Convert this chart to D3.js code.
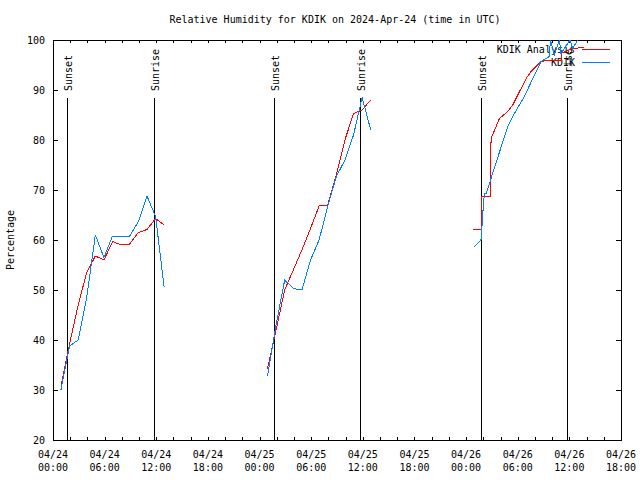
<!DOCTYPE html>
<html>
<head>
<meta charset="utf-8">
<script src="https://cdn.jsdelivr.net/npm/d3@7"></script>
<style>
  html, body { margin: 0; padding: 0; background: #fff; }
  svg { display: block; }
  text { font-family: 'DejaVu Sans Mono', monospace; font-size: 10px; fill: #000; }
</style>
</head>
<body>
<svg id="chart" width="640" height="480"></svg>
<script>
// ---- data (time in hours since 2024-04-24 00:00 UTC) ----
const titleText = "Relative Humidity for KDIK on 2024-Apr-24 (time in UTC)";
const yLabel = "Percentage";
const seriesNames = ["KDIK Analysis", "KDIK"];

const xTickHours = [0, 6, 12, 18, 24, 30, 36, 42, 48, 54, 60, 66];
const xTickDates = ["04/24","04/24","04/24","04/24","04/25","04/25","04/25","04/25","04/26","04/26","04/26","04/26"];
const xTickTimes = ["00:00","06:00","12:00","18:00","00:00","06:00","12:00","18:00","00:00","06:00","12:00","18:00"];
const yTicks = [20, 30, 40, 50, 60, 70, 80, 90, 100];

const sunsetHours = [1.62, 25.72, 49.78];
const sunriseHours = [11.72, 35.7, 59.68];

// day 1
const t1 = [0.92, 1.92, 2.92, 3.92, 4.92, 5.92, 6.92, 7.92, 8.92, 9.92, 10.92, 11.92, 12.92];
const ana1 = [30.7, 39.2, 47.0, 53.5, 56.8, 56.0, 59.7, 59.0, 59.2, 61.5, 62.1, 64.3, 63.0];
const obs1 = [30.0, 38.8, 40.0, 48.5, 61.0, 56.5, 60.8, 60.8, 60.8, 63.7, 68.8, 64.7, 50.5];
// day 2
const t2 = [24.92, 25.92, 26.92, 27.92, 28.92, 29.92, 30.92, 31.92, 32.92, 33.92, 34.92, 35.92, 36.92];
const ana2 = [34.3, 42.0, 50.0, 54.0, 58.0, 62.3, 66.8, 67.0, 73.0, 80.0, 85.3, 86.0, 88.0];
const obs2 = [32.7, 43.0, 52.0, 50.3, 50.0, 56.0, 60.0, 66.7, 72.7, 76.0, 81.0, 88.5, 82.0];
// day 3
const ta3 = [48.86, 49.75, 49.75, 50.80, 50.80, 50.91, 51.87, 52.84, 53.42, 54.39, 54.97, 55.55, 56.71, 57.87, 59.03, 59.03, 60.35, 61.74];
const ana3 = [62.1, 62.1, 68.7, 68.7, 74.3, 80.3, 84.3, 85.7, 87.0, 90.3, 92.3, 93.7, 95.7, 96.0, 96.0, 97.3, 98.3, 98.5];
const to3 = [48.89, 49.75, 49.82, 50.02, 50.13, 50.33, 50.71, 51.21, 52.84, 53.61, 54.77, 55.94, 56.71, 57.68, 57.79, 58.26, 58.84, 59.03, 60.07, 60.38, 60.96];
const obs3 = [58.5, 60.1, 62.0, 67.3, 69.2, 69.3, 71.3, 74.0, 82.7, 85.3, 88.7, 93.0, 95.7, 96.7, 100, 97.0, 100, 97.3, 100, 98.3, 100];

// ---- chart ----
const svg = d3.select("#chart");
const L = 53, R = 621, T = 40, B = 440;
const x = d3.scaleLinear().domain([0, 66]).range([L, R]);
const y = d3.scaleLinear().domain([20, 100]).range([B, T]);

const zip = (ts, vs) => ts.map((t, i) => [t, vs[i]]);
const line = d3.line().x(d => x(d[0])).y(d => y(d[1]));

// title
svg.append("text").attr("x", 335).attr("y", 23).attr("text-anchor", "middle").text(titleText);

// y label
svg.append("text").attr("transform", "translate(14,240) rotate(-90)").attr("text-anchor", "middle").text(yLabel);

// axes ticks
const gAxes = svg.append("g").attr("shape-rendering", "crispEdges");
const xMinor = d3.range(0, 67, 2);
gAxes.append("g").attr("transform", `translate(0,${B})`)
  .call(d3.axisBottom(x).tickValues(xMinor).tickSize(-3).tickFormat(""))
  .call(g => g.select(".domain").remove());
gAxes.append("g").attr("transform", `translate(0,${T})`)
  .call(d3.axisTop(x).tickValues(xMinor).tickSize(-3).tickFormat(""))
  .call(g => g.select(".domain").remove());
gAxes.append("g").attr("transform", `translate(${L},0)`)
  .call(d3.axisLeft(y).tickValues(yTicks).tickSize(-5).tickFormat(""))
  .call(g => g.select(".domain").remove());
gAxes.append("g").attr("transform", `translate(${R},0)`)
  .call(d3.axisRight(y).tickValues(yTicks).tickSize(-5).tickFormat(""))
  .call(g => g.select(".domain").remove());
gAxes.selectAll("line").attr("stroke", "#000");

// y tick labels
svg.append("g").selectAll("text").data(yTicks).join("text")
  .attr("x", L - 8).attr("y", d => y(d)).attr("dy", "0.35em")
  .attr("text-anchor", "end").text(d => d);

// x tick labels
const xl = svg.append("g").selectAll("text").data(xTickHours).join("text")
  .attr("text-anchor", "middle");
xl.append("tspan").attr("x", d => x(d)).attr("y", 458).text((d, i) => xTickDates[i]);
xl.append("tspan").attr("x", d => x(d)).attr("y", 471).text((d, i) => xTickTimes[i]);

// sunset / sunrise lines
const sun = [...sunsetHours.map(h => ({h, label: "Sunset"})), ...sunriseHours.map(h => ({h, label: "Sunrise"}))];
svg.append("g").attr("shape-rendering", "crispEdges").selectAll("line").data(sun).join("line")
  .attr("x1", d => Math.round(x(d.h)) + 0.5).attr("x2", d => Math.round(x(d.h)) + 0.5)
  .attr("y1", 98).attr("y2", B).attr("stroke", "#000");
svg.append("g").selectAll("text").data(sun).join("text")
  .attr("transform", d => `translate(${Math.round(x(d.h)) + 1},91) rotate(-90)`)
  .attr("dy", "0.35em").attr("text-anchor", "start").text(d => d.label);

// frame
svg.append("rect").attr("x", L + 0.5).attr("y", T + 0.5).attr("width", R - L).attr("height", B - T)
  .attr("fill", "none").attr("stroke", "#000").attr("shape-rendering", "crispEdges");

// legend
const legY = [49, 62];
const colors = ["#ff0000", "#0080ff"];
seriesNames.forEach((n, i) => {
  svg.append("text").attr("x", 575).attr("y", legY[i]).attr("dy", "0.35em").attr("text-anchor", "end").text(n);
  svg.append("line").attr("x1", 582).attr("x2", 610).attr("y1", legY[i] + 0.5).attr("y2", legY[i] + 0.5)
    .attr("stroke", colors[i]).attr("shape-rendering", "crispEdges");
});

// data lines
const anaSegs = [zip(t1, ana1), zip(t2, ana2), zip(ta3, ana3)];
const obsSegs = [zip(t1, obs1), zip(t2, obs2), zip(to3, obs3)];
const gData = svg.append("g").attr("shape-rendering", "crispEdges");
gData.selectAll("path.ana").data(anaSegs).join("path").attr("class", "ana")
  .attr("d", line).attr("fill", "none").attr("stroke", colors[0]).attr("stroke-width", 1);
gData.selectAll("path.obs").data(obsSegs).join("path").attr("class", "obs")
  .attr("d", line).attr("fill", "none").attr("stroke", colors[1]).attr("stroke-width", 1);
</script>
</body>
</html>
